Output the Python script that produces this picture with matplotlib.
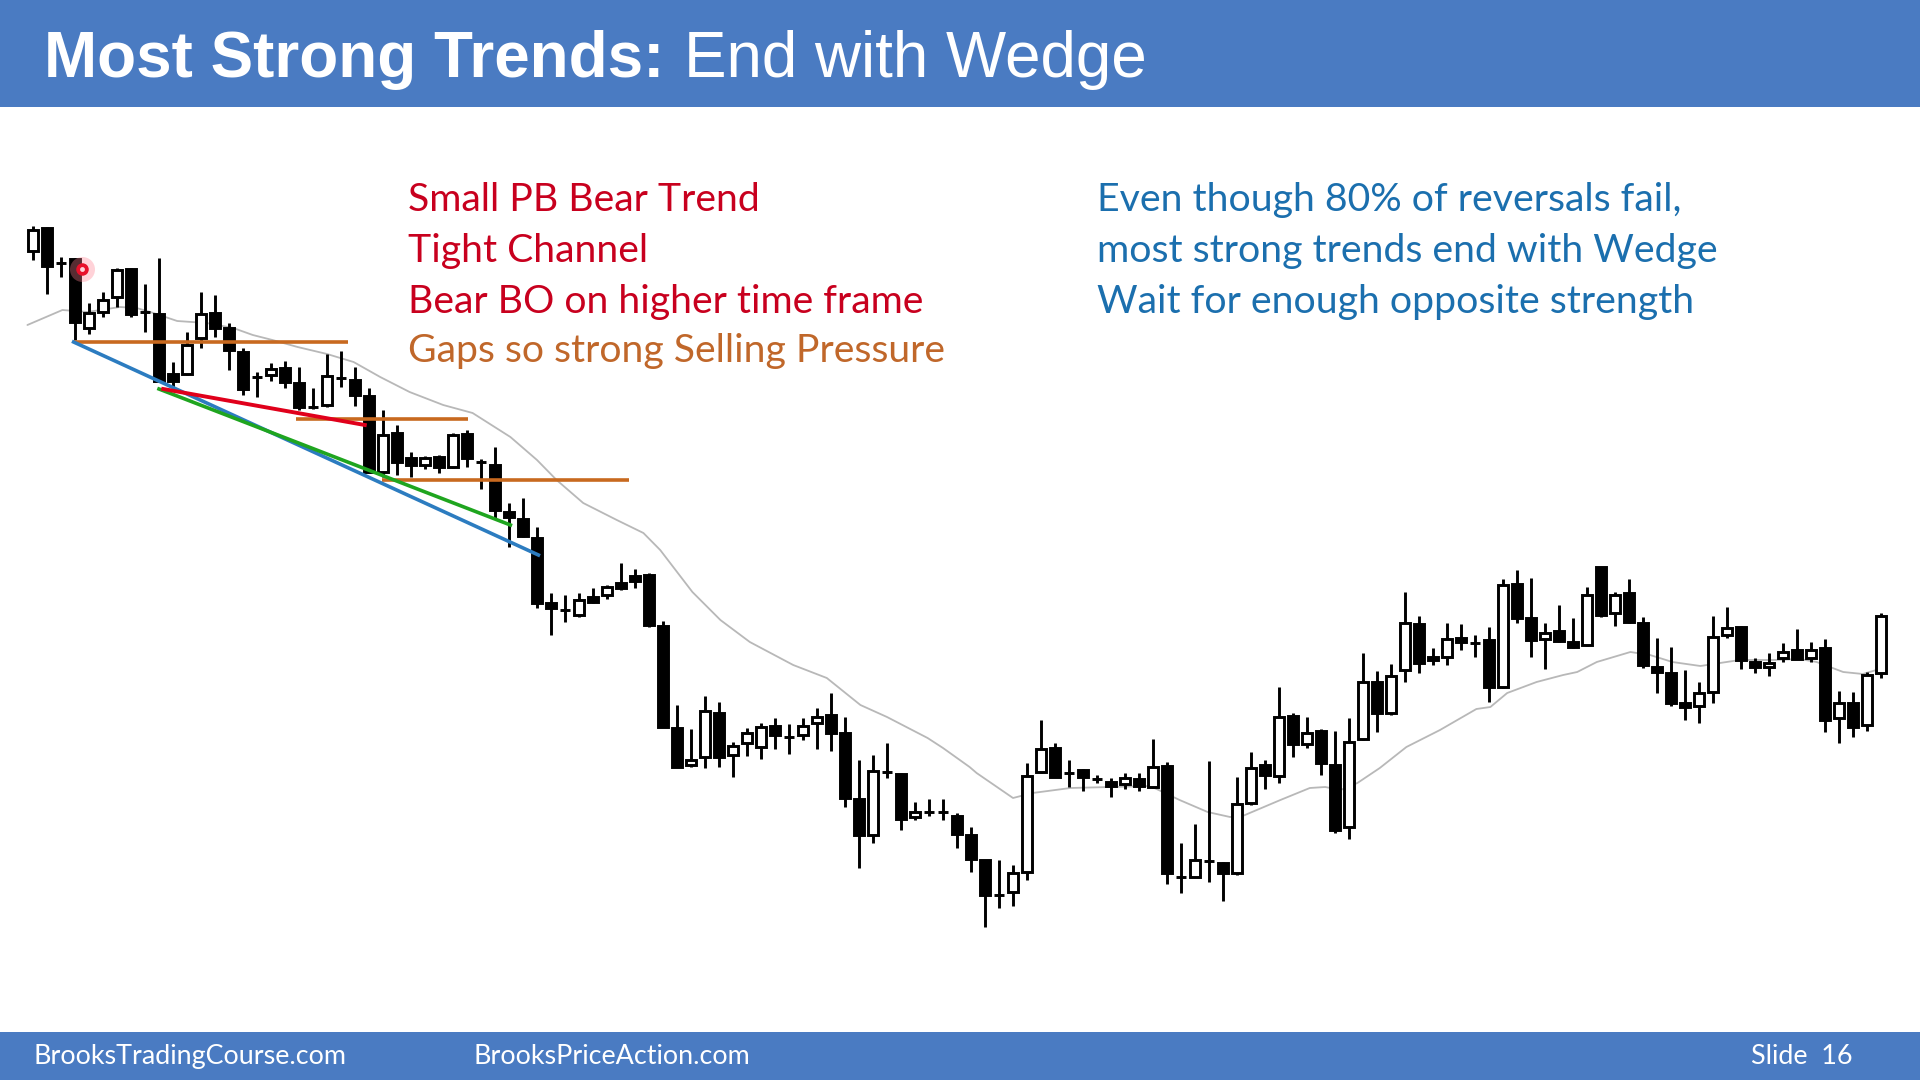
import matplotlib
matplotlib.use("Agg")
import matplotlib.pyplot as plt
from matplotlib.patches import Rectangle

# ---------------- data (arbitrary price units) ----------------
opens = [749, 772, 737, 741, 672, 688, 703, 731, 688, 686, 626, 626, 662, 687, 672, 648, 623, 625, 632, 617,
         593, 595, 622, 620, 604, 528, 567, 542, 535, 543, 533, 566, 538, 535, 488, 481, 462, 397, 390, 385,
         403, 405, 417, 424, 425, 374, 272, 235, 243, 287, 245, 257, 253, 274, 263, 265, 277, 285, 267, 201,
         165, 228, 226, 183, 188, 188, 184, 165, 140, 105, 108, 128, 228, 252, 227, 230, 221, 218, 216, 221,
         213, 234, 123, 123, 139, 137, 127, 197, 235, 224, 284, 256, 269, 235, 173, 261, 318, 287, 330, 376,
         343, 343, 362, 357, 360, 313, 416, 382, 361, 369, 358, 355, 433, 387, 407, 377, 333, 327, 297, 294,
         308, 365, 373, 338, 333, 342, 350, 342, 352, 282, 297, 275, 327]
highs = [774, 773, 743, 742, 697, 708, 732, 732, 716, 742, 638, 668, 708, 705, 677, 652, 628, 637, 639, 633,
         612, 646, 649, 633, 612, 590, 575, 548, 544, 545, 567, 570, 541, 553, 497, 502, 473, 407, 405, 407,
         412, 415, 437, 431, 427, 379, 295, 271, 304, 298, 258, 272, 277, 282, 276, 282, 292, 307, 283, 240,
         245, 257, 227, 198, 201, 201, 187, 173, 140, 140, 135, 237, 280, 257, 240, 231, 225, 222, 227, 227,
         261, 238, 157, 176, 239, 138, 223, 248, 240, 313, 287, 283, 271, 269, 282, 347, 329, 336, 408, 384,
         352, 377, 376, 365, 373, 421, 430, 422, 377, 395, 382, 413, 433, 408, 421, 383, 362, 353, 330, 318,
         384, 393, 374, 342, 347, 357, 371, 358, 361, 309, 308, 328, 387]
lows = [740, 706, 723, 660, 666, 683, 693, 683, 668, 618, 612, 625, 652, 663, 630, 605, 603, 619, 612, 590,
        591, 593, 613, 594, 527, 523, 525, 523, 531, 527, 532, 533, 511, 482, 453, 463, 392, 365, 378, 383,
        397, 401, 410, 412, 373, 273, 233, 233, 232, 233, 223, 244, 241, 251, 246, 260, 251, 249, 193, 132,
        157, 222, 170, 180, 184, 180, 152, 128, 73, 92, 94, 120, 227, 223, 213, 209, 217, 203, 211, 209,
        212, 116, 107, 123, 118, 99, 125, 195, 211, 217, 243, 252, 225, 167, 161, 260, 268, 285, 318, 327,
        335, 335, 350, 343, 298, 312, 377, 343, 331, 358, 352, 354, 383, 374, 377, 332, 307, 294, 280, 277,
        297, 362, 331, 327, 324, 338, 341, 338, 268, 257, 263, 269, 322]
closes = [770, 734, 737, 678, 687, 700, 730, 686, 688, 619, 619, 655, 686, 672, 650, 611, 623, 631, 618, 593,
          593, 624, 622, 605, 528, 565, 538, 535, 542, 533, 565, 542, 538, 490, 483, 464, 397, 392, 390, 400,
          398, 413, 412, 419, 375, 273, 233, 240, 289, 243, 254, 267, 273, 265, 263, 274, 283, 267, 202, 165,
          229, 228, 181, 188, 188, 188, 166, 141, 105, 105, 127, 224, 251, 223, 227, 223, 221, 214, 222, 214,
          233, 127, 123, 140, 139, 127, 196, 232, 225, 283, 256, 267, 237, 170, 258, 318, 287, 324, 377, 337,
          340, 361, 358, 357, 313, 415, 382, 360, 367, 359, 353, 405, 385, 405, 378, 335, 328, 297, 293, 307,
          363, 372, 340, 333, 337, 348, 341, 350, 280, 297, 273, 325, 384]

# moving average, sampled along the grey line (bar index, value)
ma_idx = [-0.4, 2.1, 3.9, 6.2, 7.4, 8.6, 10.3, 12.4, 14.3, 15.7, 17.1, 18.9, 21.0, 22.9, 24.8, 26.9, 29.3,
          31.4, 34.1, 36.0, 37.4, 39.3, 41.7, 43.6, 44.8, 47.1, 49.1, 51.2, 54.3, 56.7, 59.1, 61.0, 63.9,
          65.0, 66.9, 67.4, 70.0, 71.4, 74.1, 79.8, 81.9, 83.9, 85.5, 86.4, 89.1, 91.2, 92.3, 93.4, 94.6,
          96.2, 98.1, 100.5, 103.1, 104.1, 105.3, 107.4, 109.3, 110.3, 111.7, 114.1, 115.5, 117.1, 119.1,
          121.9, 124.3, 126.2, 127.4, 129.3, 130.7, 132.4]
ma_val = [675, 690, 688, 693, 692, 687, 679, 677, 672, 665, 660, 653, 646, 638, 623, 608, 595,
          587, 563, 540, 520, 497, 480, 467, 450, 408, 380, 358, 335, 322, 295, 283, 262,
          252, 233, 227, 202, 207, 212, 214, 200, 188, 183, 184, 200, 212, 213, 210, 217,
          232, 253, 270, 291, 293, 307, 318, 325, 328, 338, 348, 345, 338, 334,
          340, 340, 341, 338, 328, 326, 333]

# annotation lines: (x0, y0, x1, y1) in bar index / price
orange_lines = [(2.9, 658, 22.5, 658), (18.8, 581, 31.1, 581), (24.9, 520, 42.6, 520)]
blue_line = (2.9, 658, 36.1, 445)
green_line = (9.0, 611, 34.1, 475)
red_line = (9.3, 611, 23.7, 575)
red_dot = (3.5, 731)

title_bold = "Most Strong Trends:"
title_regular = "End with Wedge"
red_notes = ["Small PB Bear Trend", "Tight Channel", "Bear BO on higher time frame"]
orange_note = "Gaps so strong Selling Pressure"
blue_notes = ["Even though 80% of reversals fail,", "most strong trends end with Wedge",
              "Wait for enough opposite strength"]
footer_left = "BrooksTradingCourse.com"
footer_mid = "BrooksPriceAction.com"
footer_right = "Slide  16"

# ---------------- figure ----------------
W, H = 1920, 1080
fig = plt.figure(figsize=(19.2, 10.8), dpi=100)
fig.patch.set_facecolor("white")
renderer = fig.canvas.get_renderer()

HEADER = "#4A7BC2"
fig.patches.append(Rectangle((0, 1 - 107 / H), 1, 107 / H, transform=fig.transFigure,
                             facecolor=HEADER, edgecolor="none", zorder=0))
fig.patches.append(Rectangle((0, 0), 1, 48 / H, transform=fig.transFigure,
                             facecolor=HEADER, edgecolor="none", zorder=0))

ax = fig.add_axes([0, 0, 1, 1])
ax.set_xlim(-33 / 14, (W - 33) / 14)
ax.set_ylim(1000 - H, 1000)
ax.axis("off")
ax.patch.set_alpha(0)

# moving average
ax.plot(ma_idx, ma_val, color="#B8B8B8", lw=1.3, zorder=1, solid_capstyle="round")

# candles
bw = 0.72
for i, (o, h, l, c) in enumerate(zip(opens, highs, lows, closes)):
    ax.plot([i, i], [l, h], color="black", lw=2.1, zorder=2, solid_capstyle="butt")
    bottom = min(o, c)
    height = abs(c - o)
    face = "white" if c > o else "black"
    ax.add_patch(Rectangle((i - bw / 2, bottom), bw, height, facecolor=face,
                           edgecolor="black", lw=2.1, zorder=3))

# annotation lines
for x0, y0, x1, y1 in orange_lines:
    ax.plot([x0, x1], [y0, y1], color="#C8691F", lw=2.6, zorder=5, solid_capstyle="butt")
ax.plot(blue_line[0::2], blue_line[1::2], color="#2C7CC0", lw=2.6, zorder=5)
ax.plot(green_line[0::2], green_line[1::2], color="#1FA51F", lw=2.6, zorder=5)
ax.plot(red_line[0::2], red_line[1::2], color="#E0001B", lw=2.8, zorder=5)

# red pointer dot
ax.plot([red_dot[0]], [red_dot[1]], "o", ms=18, color="#FF8090", alpha=0.35, mec="none", zorder=6)
ax.plot([red_dot[0]], [red_dot[1]], "o", ms=9, color="#E8102A", mec="none", zorder=7)
ax.plot([red_dot[0]], [red_dot[1]], "o", ms=3.5, color="#FFD0D6", mec="none", zorder=8)


def fit_text(x_px, base_px, s, target_w, **kw):
    t = fig.text(x_px / W, 1 - base_px / H, s, fontsize=30, va="baseline", ha="left", **kw)
    w = t.get_window_extent(renderer).width
    size = 30 * target_w / w
    t.set_fontsize(size)
    return t, size


def put_text(x_px, base_px, s, size, **kw):
    return fig.text(x_px / W, 1 - base_px / H, s, fontsize=size, va="baseline", ha="left", **kw)


# title
_, ts = fit_text(44, 77, title_bold, 620, color="white", family="Liberation Sans", weight="bold")
put_text(684, 77, title_regular, ts, color="white", family="Liberation Sans")

# notes
BODY_FONT = "Lato"
RED = "#C8001E"
ORANGE = "#C0672A"
BLUE = "#1B6FAE"
t, bs = fit_text(408, 313, red_notes[2], 515, color=RED, family=BODY_FONT)
put_text(408, 211, red_notes[0], bs, color=RED, family=BODY_FONT)
put_text(408, 262, red_notes[1], bs, color=RED, family=BODY_FONT)
put_text(408, 362, orange_note, bs, color=ORANGE, family=BODY_FONT)

t, rs = fit_text(1097, 262, blue_notes[1], 620, color=BLUE, family=BODY_FONT)
put_text(1097, 211, blue_notes[0], rs, color=BLUE, family=BODY_FONT)
put_text(1097, 313, blue_notes[2], rs, color=BLUE, family=BODY_FONT)

# footer
_, fs = fit_text(34, 1064, footer_left, 313, color="white", family=BODY_FONT)
put_text(474, 1064, footer_mid, fs, color="white", family=BODY_FONT)
put_text(1751, 1064, footer_right, fs, color="white", family=BODY_FONT)

fig.savefig("out.png", dpi=100, facecolor="white")
